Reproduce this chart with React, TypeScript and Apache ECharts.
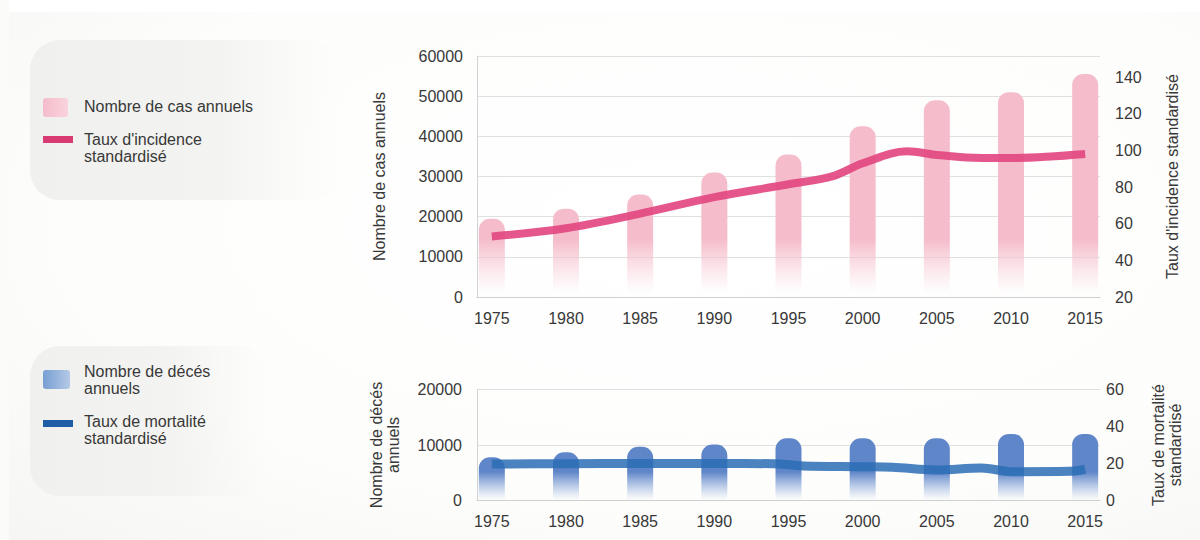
import React, { useEffect, useRef } from "react";
import * as echarts from "echarts";

const years = [1975, 1980, 1985, 1990, 1995, 2000, 2005, 2010, 2015];
const casAnnuels = [19500, 22000, 25500, 31000, 35500, 42500, 49000, 51000, 55500];
const incidenceYears = [1975, 1980, 1985, 1990, 1995, 1998, 2000, 2003, 2005, 2008, 2010, 2015];
const incidence = [53, 57.5, 65.5, 74.5, 81.5, 86, 93, 99.5, 97.5, 95.8, 95.8, 98];
const decesAnnuels = [7800, 8700, 9700, 10100, 11200, 11200, 11200, 12000, 12000];
const mortaliteYears = [1975, 1980, 1985, 1990, 1994, 1996, 2000, 2002, 2005, 2008, 2010, 2014, 2015];
const mortalite = [19.7, 19.9, 20, 20, 19.9, 18.7, 18.3, 18, 16.5, 17.6, 15.6, 15.8, 16.9];

const FONT = "'Liberation Sans', Arial, sans-serif";
const TXT = "#383838";

export default function App() {
  const ref = useRef<HTMLDivElement>(null);
  useEffect(() => {
    if (!ref.current) return;
    const chart = echarts.init(ref.current, undefined, { renderer: "svg" });

    const pinkBar = new echarts.graphic.LinearGradient(
      0, 240, 0, 293,
      [
        { offset: 0, color: "#f5bdcb" },
        { offset: 1, color: "rgba(248,210,220,0)" },
      ],
      true
    );
    const blueBar = new echarts.graphic.LinearGradient(
      0, 472, 0, 499,
      [
        { offset: 0, color: "#5f86c8" },
        { offset: 1, color: "rgba(140,170,220,0.03)" },
      ],
      true
    );

    const xAxisBase = (gridIndex: number) => ({
      type: "value",
      gridIndex,
      min: 1974,
      max: 2016,
      interval: 1,
      axisTick: { show: false },
      splitLine: { show: false },
      axisLine: { lineStyle: { color: "#cfcfcf", width: 1 } },
      axisLabel: {
        fontSize: 16,
        color: TXT,
        margin: 13,
        fontFamily: FONT,
        formatter: (v: number) => (Math.round(v) % 5 === 0 ? String(Math.round(v)) : ""),
      },
    });

    const plain = (v: number) => String(Math.round(v));
    const nameStyle = { fontSize: 16, color: TXT, fontFamily: FONT, lineHeight: 17 };
    const labelStyle = { fontSize: 16, color: TXT, fontFamily: FONT };

    const legendText = (x: number, y: number, text: string) => ({
      type: "text",
      x,
      y,
      z: 10,
      style: {
        text,
        fill: TXT,
        font: `16px ${FONT}`,
        lineHeight: 17,
        textVerticalAlign: "middle",
        verticalAlign: "middle",
      },
    });

    const boxFill = () =>
      new echarts.graphic.LinearGradient(0, 0, 1, 0, [
        { offset: 0, color: "#f0f0ee" },
        { offset: 0.6, color: "#f3f3f1" },
        { offset: 1, color: "rgba(246,246,244,0)" },
      ]);

    const option: any = {
      animation: false,
      textStyle: { fontFamily: FONT },
      graphic: [
        {
          type: "rect",
          z: -20,
          silent: true,
          shape: { x: 0, y: 0, width: 1200, height: 540 },
          style: {
            fill: new echarts.graphic.RadialGradient(0.58, 0.42, 0.95, [
              { offset: 0, color: "#ffffff" },
              { offset: 0.55, color: "#fdfdfc" },
              { offset: 1, color: "#f2f2f0" },
            ]),
          },
        },
        {
          type: "rect",
          z: -19,
          silent: true,
          shape: { x: 0, y: 0, width: 1200, height: 12 },
          style: { fill: "#ffffff" },
        },
        {
          type: "rect",
          z: -19,
          silent: true,
          shape: { x: 0, y: 0, width: 9, height: 540 },
          style: { fill: "#fbfbfa" },
        },
        {
          type: "rect",
          z: -18,
          silent: true,
          shape: { x: 30, y: 40, width: 310, height: 160, r: 30 },
          style: { fill: boxFill() },
        },
        {
          type: "rect",
          z: -18,
          silent: true,
          shape: { x: 30, y: 346, width: 240, height: 150, r: 30 },
          style: { fill: boxFill() },
        },
        // legend markers
        {
          type: "rect",
          z: 10,
          shape: { x: 43, y: 98, width: 25, height: 19, r: 3 },
          style: {
            fill: new echarts.graphic.LinearGradient(0, 0, 1, 0, [
              { offset: 0, color: "#f5bccb" },
              { offset: 1, color: "#f9d4dd" },
            ]),
          },
        },
        {
          type: "rect",
          z: 10,
          shape: { x: 43, y: 136, width: 30, height: 7 },
          style: { fill: "#d93a74" },
        },
        {
          type: "rect",
          z: 10,
          shape: { x: 43, y: 370, width: 27, height: 19, r: 3 },
          style: {
            fill: new echarts.graphic.LinearGradient(0, 0, 1, 0, [
              { offset: 0, color: "#779fd2" },
              { offset: 1, color: "#b4c9e6" },
            ]),
          },
        },
        {
          type: "rect",
          z: 10,
          shape: { x: 43, y: 420, width: 30, height: 7 },
          style: { fill: "#1f5ea6" },
        },
        legendText(84, 106, "Nombre de cas annuels"),
        legendText(84, 147.5, "Taux d'incidence\nstandardisé"),
        legendText(84, 380, "Nombre de décés\nannuels"),
        legendText(84, 429.5, "Taux de mortalité\nstandardisé"),
      ],
      grid: [
        { left: 477, right: 100, top: 56, height: 241 },
        { left: 477, right: 100, top: 389.5, height: 111 },
      ],
      xAxis: [xAxisBase(0), xAxisBase(1)],
      yAxis: [
        {
          type: "value",
          gridIndex: 0,
          min: 0,
          max: 60000,
          interval: 10000,
          name: "Nombre de cas annuels",
          nameLocation: "middle",
          nameGap: 89,
          nameTextStyle: nameStyle,
          axisLine: { show: true, lineStyle: { color: "#d3d3d3" } },
          axisTick: { show: false },
          splitLine: { lineStyle: { color: "#e0e0e0" } },
          axisLabel: { ...labelStyle, margin: 14, formatter: plain },
        },
        {
          type: "value",
          gridIndex: 0,
          position: "right",
          min: 20,
          max: 151.5,
          interval: 20,
          name: "Taux d'incidence standardisé",
          nameLocation: "middle",
          nameGap: 64,
          nameTextStyle: nameStyle,
          axisLine: { show: false },
          axisTick: { show: false },
          splitLine: { show: false },
          axisLabel: {
            ...labelStyle,
            margin: 15,
            showMaxLabel: false,
            formatter: (v: number) => (Math.round(v) % 20 === 0 ? String(Math.round(v)) : ""),
          },
        },
        {
          type: "value",
          gridIndex: 1,
          min: 0,
          max: 20000,
          interval: 10000,
          name: "Nombre de décés\nannuels",
          nameLocation: "middle",
          nameGap: 75,
          nameTextStyle: nameStyle,
          axisLine: { show: true, lineStyle: { color: "#d3d3d3" } },
          axisTick: { show: false },
          splitLine: { lineStyle: { color: "#e0e0e0" } },
          axisLabel: { ...labelStyle, margin: 15, formatter: plain },
        },
        {
          type: "value",
          gridIndex: 1,
          position: "right",
          min: 0,
          max: 60,
          interval: 20,
          name: "Taux de mortalité\nstandardisé",
          nameLocation: "middle",
          nameGap: 50,
          nameTextStyle: nameStyle,
          axisLine: { show: false },
          axisTick: { show: false },
          splitLine: { show: false },
          axisLabel: { ...labelStyle, margin: 6, formatter: plain },
        },
      ],
      series: [
        {
          name: "Nombre de cas annuels",
          type: "bar",
          xAxisIndex: 0,
          yAxisIndex: 0,
          barWidth: 26,
          data: years.map((y, i) => [y, casAnnuels[i]]),
          itemStyle: { color: pinkBar, borderRadius: [11, 11, 0, 0] },
          z: 2,
        },
        {
          name: "Taux d'incidence standardisé",
          type: "line",
          xAxisIndex: 0,
          yAxisIndex: 1,
          smooth: 0.35,
          showSymbol: false,
          symbol: "none",
          data: incidenceYears.map((y, i) => [y, incidence[i]]),
          lineStyle: { color: "#e2457f", width: 8, opacity: 0.9 },
          z: 3,
        },
        {
          name: "Nombre de décés annuels",
          type: "bar",
          xAxisIndex: 1,
          yAxisIndex: 2,
          barWidth: 26,
          data: years.map((y, i) => [y, decesAnnuels[i]]),
          itemStyle: { color: blueBar, borderRadius: [11, 11, 0, 0] },
          z: 2,
        },
        {
          name: "Taux de mortalité standardisé",
          type: "line",
          xAxisIndex: 1,
          yAxisIndex: 3,
          smooth: 0.35,
          showSymbol: false,
          symbol: "none",
          data: mortaliteYears.map((y, i) => [y, mortalite[i]]),
          lineStyle: { color: "#2a6db5", width: 9, opacity: 0.85 },
          z: 3,
        },
      ],
    };

    chart.setOption(option);
    return () => chart.dispose();
  }, []);

  return (
    <div
      ref={ref}
      style={{ position: "absolute", left: 0, top: 0, width: 1200, height: 540 }}
    />
  );
}
